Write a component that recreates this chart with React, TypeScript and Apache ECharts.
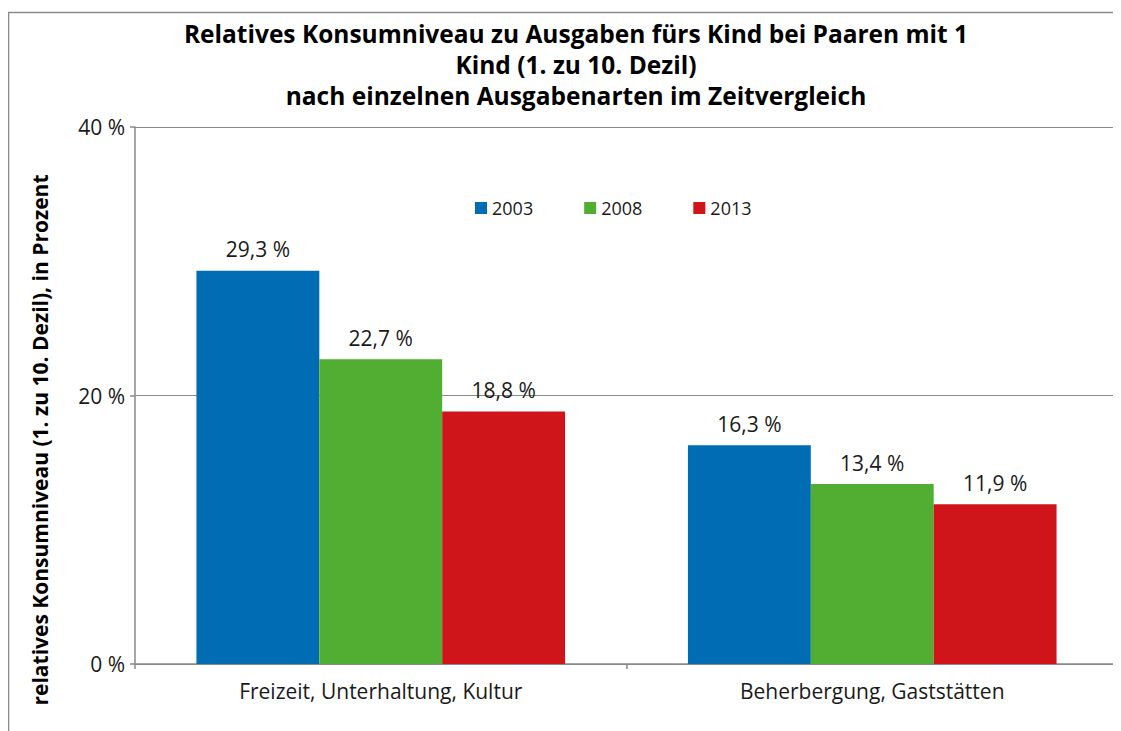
import React, { useEffect, useRef } from "react";
import * as echarts from "echarts";

const categories = ["Freizeit, Unterhaltung, Kultur", "Beherbergung, Gaststätten"];
const years = ["2003", "2008", "2013"];
const values2003 = [29.3, 16.3];
const values2008 = [22.7, 13.4];
const values2013 = [18.8, 11.9];
const colors = ["#006cb4", "#52ae32", "#cf1519"];
const titleLines = [
  "Relatives Konsumniveau zu Ausgaben fürs Kind bei Paaren mit 1",
  "Kind (1. zu 10. Dezil)",
  "nach einzelnen Ausgabenarten im Zeitvergleich",
];
const yAxisName = "relatives Konsumniveau (1. zu 10. Dezil), in Prozent";

const FONT = "'Open Sans', sans-serif";

export default function App() {
  const ref = useRef<HTMLDivElement>(null);
  useEffect(() => {
    if (!ref.current) return;
    const chart = echarts.init(ref.current, undefined, { renderer: "svg" });
    const seriesData = [values2003, values2008, values2013];
    chart.setOption({
      animation: false,
      textStyle: { fontFamily: FONT },
      grid: { left: 127, right: 3, top: 119, bottom: 67, containLabel: false },
      legend: {
        left: 462,
        top: 186,
        itemWidth: 12,
        itemHeight: 12,
        itemGap: 51,
        icon: "rect",
        textStyle: { fontFamily: FONT, fontSize: 18, color: "#1a1a1a" },
        data: years,
      },
      xAxis: {
        type: "category",
        data: categories,
        axisLine: { lineStyle: { color: "#8a8a8a", width: 1.5 } },
        axisTick: { show: true, alignWithLabel: false, length: 5, lineStyle: { color: "#8a8a8a", width: 1.5 } },
        axisLabel: { fontFamily: FONT, fontSize: 21, color: "#1a1a1a", margin: 16 },
      },
      yAxis: {
        type: "value",
        min: 0,
        max: 40,
        interval: 20,
        axisLine: { show: true, lineStyle: { color: "#8a8a8a", width: 1.5 } },
        axisTick: { show: true, length: 5, lineStyle: { color: "#8a8a8a", width: 1.5 } },
        splitLine: { show: true, lineStyle: { color: "#8a8a8a", width: 1.2 } },
        axisLabel: { fontFamily: FONT, fontSize: 21, color: "#1a1a1a", margin: 10, formatter: "{value} %" },
      },
      series: years.map((y, i) => ({
        name: y,
        type: "bar",
        data: seriesData[i],
        barGap: "0%",
        barCategoryGap: "25%",
        itemStyle: { color: colors[i] },
        label: {
          show: true,
          position: "top",
          distance: 11,
          fontFamily: FONT,
          fontSize: 21,
          color: "#1a1a1a",
          formatter: (p: any) => p.value.toFixed(1).replace(".", ",") + " %",
        },
      })),
      graphic: [
        {
          type: "rect",
          shape: { x: 0.5, y: 4.5, width: 1300, height: 1000 },
          style: { fill: "none", stroke: "#8a8a8a", lineWidth: 1.5 },
          silent: true,
        },
        {
          type: "text",
          x: 568,
          y: 9.5,
          style: {
            text: titleLines.join("\n"),
            fontFamily: FONT,
            fontWeight: "bold",
            fontSize: 24.5,
            lineHeight: 31,
            fill: "#000",
            align: "center",
            verticalAlign: "top",
          },
        },
        {
          type: "text",
          x: 32,
          y: 432,
          rotation: Math.PI / 2,
          style: {
            text: yAxisName,
            fontFamily: FONT,
            fontWeight: "bold",
            fontSize: 21,
            fill: "#000",
            align: "center",
            verticalAlign: "middle",
          },
        },
      ],
    });
    return () => chart.dispose();
  }, []);
  return <div ref={ref} style={{ width: 1113, height: 723 }} />;
}
